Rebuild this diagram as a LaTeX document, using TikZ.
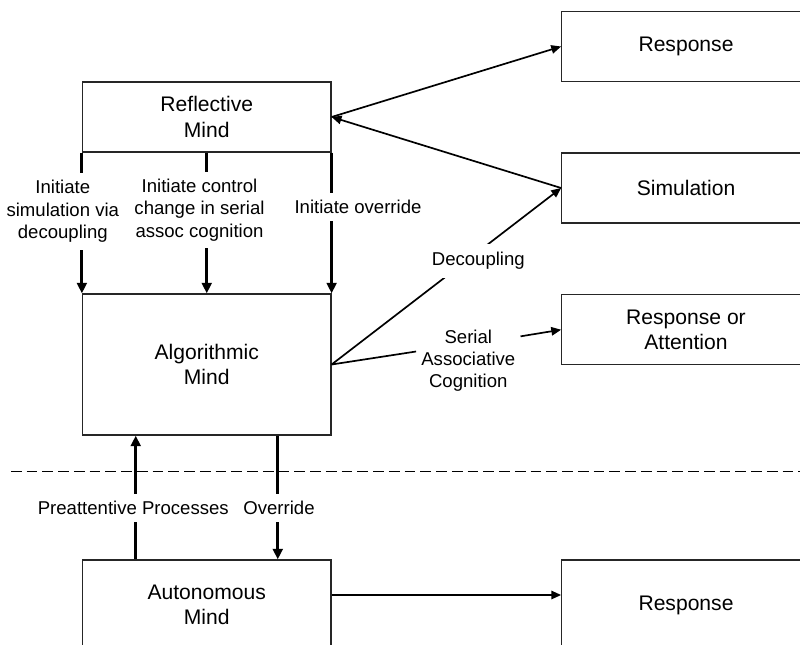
\documentclass[tikz,border=0pt]{standalone}
\usepackage{fontspec}
\setmainfont{Liberation Sans}
\usetikzlibrary{arrows.meta}

\tikzset{
  mindbox/.style={draw=black!85, line width=0.9pt, minimum width=6.21cm,
    minimum height=1.75cm, align=center, inner sep=0pt,
    font=\fontsize{15}{18.1}\selectfont},
  lbl/.style={fill=white, align=center, inner sep=0.18cm,
    font=\fontsize{13.2}{15.9}\selectfont},
  conn/.style={line width=1.2pt, -{Triangle[length=7pt,width=6pt]}},
  bigconn/.style={line width=2.2pt, -{Triangle[length=7.5pt,width=7pt]}}
}

\begin{document}
\begin{tikzpicture}[x=0.025cm, y=-0.025cm]

\useasboundingbox (0,0) rectangle (800,644);
\clip (0,0) rectangle (800,644);

% Minds (left column)
\node[mindbox] (refl) at (206.75,117) {Reflective\\Mind};
\node[mindbox, minimum height=3.525cm] (algo) at (206.75,364.5) {Algorithmic\\Mind};
\node[mindbox, minimum height=2.25cm] (auto) at (206.75,605) {Autonomous\\Mind};

% Outcomes (right column)
\node[mindbox] (resp) at (686,46.5) {Response};
\node[mindbox] (sim) at (686,188) {Simulation};
\node[mindbox] (respatt) at (686,329.7) {Response or\\Attention};
\node[mindbox, minimum height=2.25cm] (respb) at (686,605) {Response};

% Serial cognition label
\node[lbl, fill=none, inner sep=0.125cm] (serial) at (468.3,360.7) {Serial\\Associative\\Cognition};

% Divider
\draw[line width=1pt, dash pattern=on 7.6pt off 3.6pt] (11,471.7) -- (800,471.7);

% Reflective to the right
\draw[conn] (refl.east) -- (resp.west);
\draw[conn] (sim.west) -- (refl.east);

% Algorithmic to the right
\draw[conn] (algo.east) -- (sim.west);
\draw[line width=1.2pt] (algo.east) -- (serial.170);
\draw[conn] (serial.25) -- (respatt.west);

% Autonomous to response
\draw[conn] ([yshift=0.25cm]auto.east) -- ([yshift=0.25cm]respb.west);

% Reflective down to algorithmic
\draw[bigconn] (refl.south west) -- (algo.north west);
\draw[bigconn] (refl.south) -- (algo.north);
\draw[bigconn] (refl.south east) -- (algo.north east);

% Between algorithmic and autonomous
\draw[bigconn] ([xshift=-1.775cm]auto.north) -- ([xshift=-1.775cm]algo.south);
\draw[bigconn] ([xshift=1.775cm]algo.south) -- ([xshift=1.775cm]auto.north);

% Labels on the lines
\node[lbl] (simlab) at (62.8,211.5) {Initiate\\simulation via\\decoupling};
\node[lbl] (ctrllab) at (199.5,210) {Initiate control\\change in serial\\assoc cognition};
\node[lbl] (ovrlab) at (358,207) {Initiate override};
\node[lbl, inner sep=0.22cm] (decoup) at (478.3,261) {Decoupling};
\node[lbl] (prelab) at (133.3,508.3) {Preattentive Processes};
\node[lbl] (ovrlab2) at (279,508.3) {Override};

\end{tikzpicture}
\end{document}
